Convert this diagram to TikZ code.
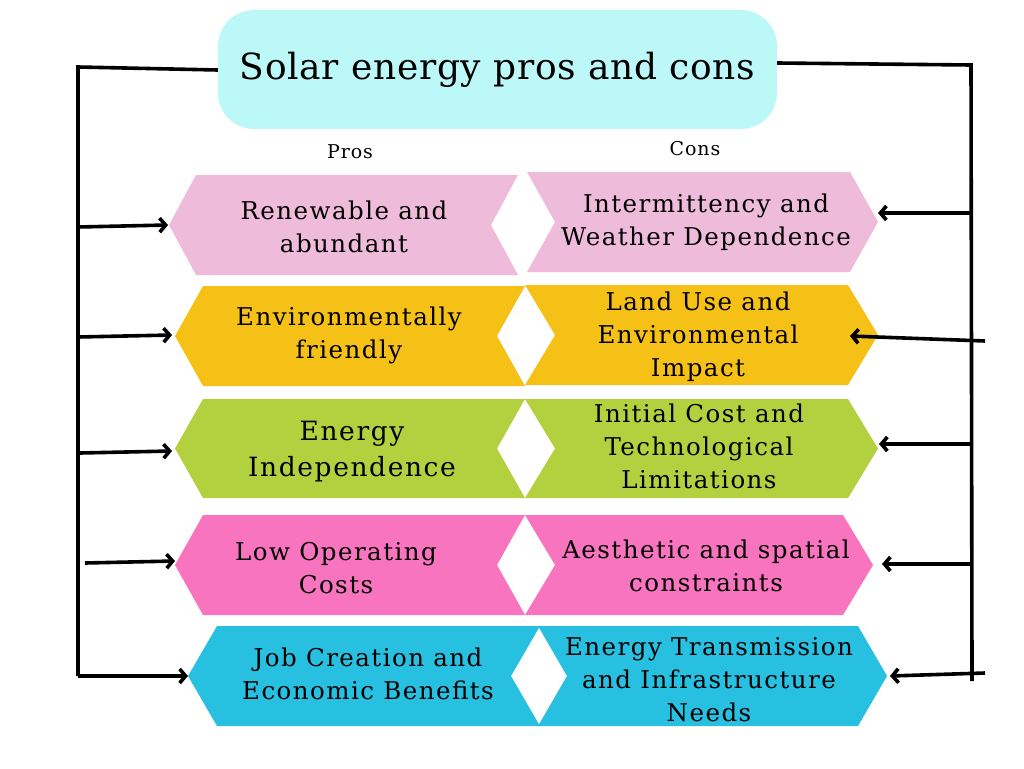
\documentclass[tikz,border=0pt]{standalone}
\usepackage{fontspec}
\usetikzlibrary{arrows.meta}
\newfontfamily\bodyfont[LetterSpace=6]{DejaVu Serif}
\newfontfamily\titlefont[LetterSpace=2]{DejaVu Serif}
\newfontfamily\smallfont[LetterSpace=5]{DejaVu Serif}
\definecolor{cTitle}{HTML}{BCF8F8}
\definecolor{cPink}{HTML}{EFBBDA}
\definecolor{cYellow}{HTML}{F6C117}
\definecolor{cGreen}{HTML}{B3D03F}
\definecolor{cHot}{HTML}{F874BE}
\definecolor{cCyan}{HTML}{27C0E0}
% left-pointing chevron: L R T B d colour
\newcommand{\chevL}[6]{\fill[#6] ({#1+#5},#3) -- (#2,#3) -- ({#2-#5},{(#3+#4)/2}) -- (#2,#4) -- ({#1+#5},#4) -- (#1,{(#3+#4)/2}) -- cycle;}
% right-pointing chevron
\newcommand{\chevR}[6]{\fill[#6] (#1,#3) -- ({#2-#5},#3) -- (#2,{(#3+#4)/2}) -- ({#2-#5},#4) -- (#1,#4) -- ({#1+#5},{(#3+#4)/2}) -- cycle;}
\tikzset{
  boxtext/.style={align=center, inner sep=0pt, font=\bodyfont\fontsize{24.5}{33}\selectfont, text=black},
  bigtext/.style={align=center, inner sep=0pt, font=\bodyfont\fontsize{26.5}{36}\selectfont, text=black},
  conn/.style={line width=3.6pt, draw=black},
  arr/.style={conn, -{Straight Barb[length=6pt,width=14pt]}},
}
\begin{document}
\begin{tikzpicture}[x=1pt,y=-1pt]
\useasboundingbox (0,0) rectangle (1024,768);
\fill[white] (0,0) rectangle (1024,768);

% title
\node[fill=cTitle, rounded corners=36pt, minimum width=559pt, minimum height=119pt, inner sep=0pt,
      font=\titlefont\fontsize{36}{40}\selectfont] (title) at (497.5,69.5) {Solar energy pros and cons};

\node[font=\smallfont\fontsize{19}{22}\selectfont] (pros) at (350,152) {Pros};
\node[font=\smallfont\fontsize{19}{22}\selectfont] (cons) at (695,149) {Cons};

% row 1
\chevL{169}{518}{175}{275}{27}{cPink}
\chevR{527}{878}{172}{272}{28}{cPink}
% row 2
\chevL{175}{525}{286}{386}{28}{cYellow}
\chevR{525}{878}{285}{385}{30}{cYellow}
% row 3
\chevL{175}{525}{399}{498}{28}{cGreen}
\chevR{525}{878}{399}{498}{30}{cGreen}
% row 4
\chevL{175}{525}{515}{615}{28}{cHot}
\chevR{525}{873}{515}{615}{30}{cHot}
% row 5
\chevL{188}{540}{626}{726}{29}{cCyan}
\chevR{538}{887}{626}{726}{29}{cCyan}

% texts
\node[boxtext] (p1) at (344,227) {Renewable and\\abundant};
\node[boxtext] (c1) at (706,222.5) {Intermittency and\\Weather Dependence};
\node[boxtext] (p2) at (349,335.5) {Environmentally\\friendly};
\node[boxtext] (c2) at (698,337) {Land Use and\\Environmental\\Impact};
\node[bigtext] (p3) at (352,452) {Energy\\Independence};
\node[boxtext] (c3) at (699,446) {Initial Cost and\\Technological\\Limitations};
\node[boxtext] (p4) at (336,568.5) {Low Operating\\Costs};
\node[boxtext] (c4) at (706,565.5) {Aesthetic and spatial\\constraints};
\node[boxtext] (p5) at (368,673.5) {Job Creation and\\Economic Benefits};
\node[boxtext] (c5) at (709,679.5) {Energy Transmission\\and Infrastructure\\Needs};

% arrow targets (tips of chevrons)
\coordinate (tp1) at (168,225);
\coordinate (tp2) at (172,335);
\coordinate (tp3) at (172,451);
\coordinate (tp4) at (175,561);
\coordinate (tp5) at (188,676);
\coordinate (tc1) at (878,213);
\coordinate (tc2) at (850,336);
\coordinate (tc3) at (879,444);
\coordinate (tc4) at (882,564);
\coordinate (tc5) at (890,676);

% left trunk
\coordinate (lc) at (78,67);
\coordinate (lb) at (78,676);
\coordinate (l1) at (78,227);
\coordinate (l2) at (78,337);
\coordinate (l3) at (80,453);
\coordinate (l4) at (85,563);
\draw[conn, line join=miter] (title.west |- 0,70) -- (lc) -- (lb);
\draw[arr] (lb) -- (tp5);
\draw[arr] (l1) -- (tp1);
\draw[arr] (l2) -- (tp2);
\draw[arr] (l3) -- (tp3);
\draw[arr] (l4) -- (tp4);

% right trunk
\coordinate (rc) at (971,65);
\coordinate (rb) at (972,681);
\coordinate (r1) at (970,213);
\coordinate (r2) at (985,341);
\coordinate (r3) at (972,444);
\coordinate (r4) at (972,564);
\coordinate (r5) at (985,673);
\draw[conn, line join=miter] (title.east |- 0,63) -- (rc) -- (rb);
\draw[arr] (r1) -- (tc1);
\draw[arr] (r2) -- (tc2);
\draw[arr] (r3) -- (tc3);
\draw[arr] (r4) -- (tc4);
\draw[arr] (r5) -- (tc5);
\end{tikzpicture}
\end{document}
